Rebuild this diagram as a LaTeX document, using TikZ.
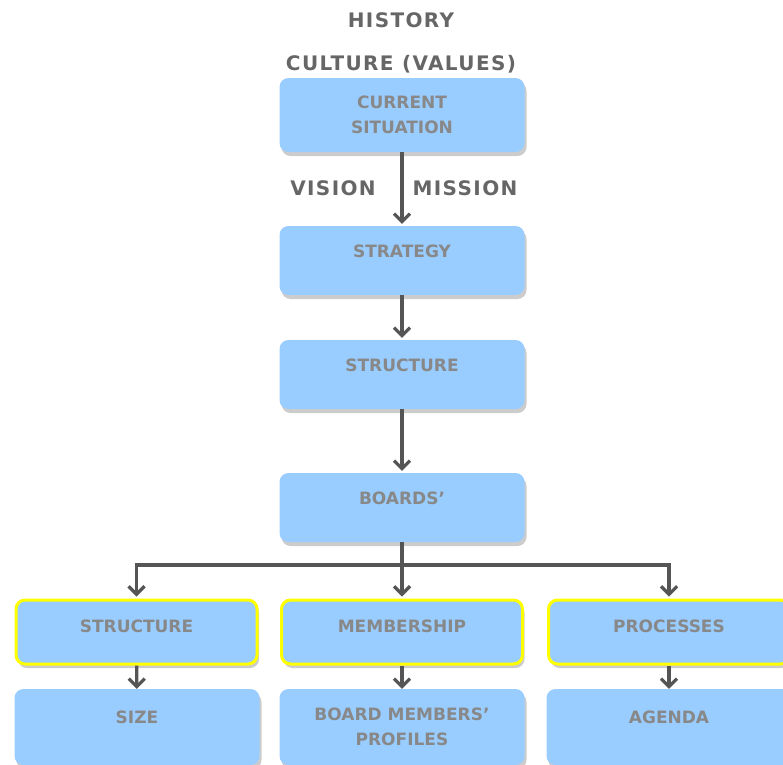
\documentclass[tikz,border=0pt]{standalone}
\usepackage{fontspec}
\setmainfont{DejaVu Sans}
\newfontfamily\widefont{DejaVu Sans}[LetterSpace=7]
\usetikzlibrary{arrows.meta,positioning,shadows}
\definecolor{boxblue}{HTML}{99CCFF}
\definecolor{boxtext}{HTML}{888888}
\definecolor{headtext}{HTML}{666666}
\definecolor{arrowgray}{HTML}{555555}
\definecolor{hlyellow}{HTML}{FFFF00}

\begin{document}
\begin{tikzpicture}[x=1pt,y=-1pt,
                    box/.style={fill=boxblue, rounded corners=9pt, minimum width=245pt,
                                inner sep=0pt, align=center, text=boxtext,
                                font=\bfseries\fontsize{17}{25}\selectfont,
                                drop shadow={shadow xshift=2pt, shadow yshift=-4pt, opacity=0.4}},
                    hlbox/.style={box, draw=hlyellow, line width=3pt, minimum width=241pt},
                    toptext/.style 2 args={text height=#1, text depth=#2},
                    head/.style={text=headtext, anchor=base,
                                 font=\widefont\bfseries\fontsize{20}{24}\selectfont},
                    arr/.style={draw=arrowgray, line width=3.2pt,
                                -{Straight Barb[length=8pt,width=16pt,line width=3.2pt]}}]
    \useasboundingbox (0,0) rectangle (783,764);

    % labels above the chain
    \node[head] (history) at (401,27) {HISTORY};
    \node[head] (culture) at (401,70) {CULTURE (VALUES)};

    % main chain
    \node[box, minimum height=74pt] (current) at (402,115) {CURRENT\\SITUATION};
    \node[box, toptext={31pt}{38pt}] (strategy) at (402,260.5) {STRATEGY};
    \node[box, toptext={31pt}{38pt}] (structure) at (402,374.5) {STRUCTURE};
    \node[box, toptext={31pt}{38pt}] (boards) at (402,507.5) {BOARDS’};

    \node[head] (vision) at (333,195) {VISION};
    \node[head] (mission) at (465,195) {MISSION};

    % second row
    \node[hlbox, toptext={32pt}{32pt}] (bstructure) at (136.5,632) {STRUCTURE};
    \node[hlbox, toptext={32pt}{32pt}] (membership) at (402,632) {MEMBERSHIP};
    \node[hlbox, toptext={32pt}{32pt}] (processes) at (669,632) {PROCESSES};

    % third row
    \node[box, toptext={34pt}{42pt}] (boardsize) at (137,727) {SIZE};
    \node[box, minimum height=76pt] (profiles) at (402,727) {BOARD MEMBERS’\\PROFILES};
    \node[box, toptext={34pt}{42pt}] (agenda) at (669,727) {AGENDA};

    \coordinate (split) at (402,565);

    \draw[arr, shorten >=2pt] (current) -- (strategy);
    \draw[arr, shorten >=2pt] (strategy) -- (structure);
    \draw[arr, shorten >=2pt] (structure) -- (boards);
    \draw[arr, shorten >=2pt] (boards) -- (membership);
    \draw[arr, shorten >=2pt] (split) -| (bstructure.north);
    \draw[arr, shorten >=2pt] (split) -| (processes.north);
    \draw[arr] (bstructure) -- (boardsize);
    \draw[arr] (membership) -- (profiles);
    \draw[arr] (processes) -- (agenda);
\end{tikzpicture}
\end{document}
